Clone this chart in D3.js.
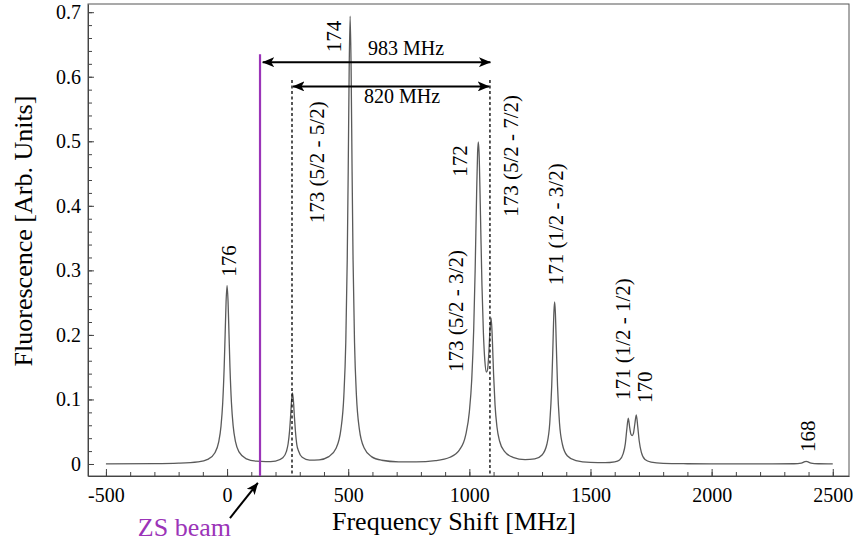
<!DOCTYPE html>
<html>
<head>
<meta charset="utf-8">
<script src="https://cdn.jsdelivr.net/npm/d3@7"></script>
<style>
body { margin: 0; background: #fff; }
svg { display: block; font-family: "Liberation Serif", "DejaVu Serif", serif; }
</style>
</head>
<body>
<svg width="853" height="542"></svg>
<script>
// frequency shift [MHz] of each point
var freq = [-500, -300, -200, -120, -80, -50, -35, -25, -18, -12, -8, -4, 0, 4, 8, 12, 18, 25, 35, 50,
  80, 120, 160, 200, 230, 245, 252, 258, 262, 266, 270, 274, 278, 282, 288, 295, 310, 340, 380, 420,
  450, 470, 482, 490, 496, 500, 504, 508, 512, 516, 520, 526, 534, 546, 566, 596, 638, 708, 780, 860,
  920, 960, 985, 1000, 1010, 1018, 1024, 1030, 1034, 1037, 1040, 1046, 1052, 1058, 1064, 1070, 1075, 1080, 1085, 1090,
  1095, 1100, 1106, 1114, 1125, 1145, 1180, 1230, 1270, 1300, 1320, 1332, 1340, 1345, 1349, 1352, 1355, 1359, 1364, 1372,
  1384, 1404, 1440, 1500, 1560, 1600, 1620, 1635, 1644, 1650, 1656, 1662, 1667, 1672, 1677, 1683, 1689, 1695, 1701, 1710,
  1725, 1750, 1800, 1900, 2000, 2200, 2340, 2370, 2385, 2390, 2395, 2410, 2440, 2500];

// fluorescence [arb. units] at those points
var fluor = [0.0002, 0.0005, 0.0012, 0.0032, 0.0071, 0.0175, 0.0335, 0.0587, 0.0946, 0.149, 0.2002, 0.2521, 0.2765, 0.2525, 0.2007, 0.1496, 0.0952, 0.0594, 0.0342, 0.0183,
  0.0079, 0.0043, 0.0036, 0.0046, 0.0096, 0.0195, 0.0314, 0.0513, 0.0726, 0.0974, 0.110, 0.0974, 0.0726, 0.0514, 0.0296, 0.0202, 0.0103, 0.0060, 0.0065, 0.0114,
  0.0245, 0.0540, 0.1055, 0.1887, 0.3167, 0.4532, 0.612, 0.6937, 0.6125, 0.4535, 0.3169, 0.1889, 0.1058, 0.0541, 0.0247, 0.0114, 0.0058, 0.0034, 0.0033, 0.0052,
  0.0104, 0.0223, 0.0451, 0.0807, 0.1318, 0.2086, 0.3014, 0.4187, 0.4818, 0.4990, 0.4835, 0.3850, 0.2776, 0.2028, 0.1599, 0.1423, 0.1460, 0.1688, 0.2066, 0.2259,
  0.1923, 0.1389, 0.0916, 0.0573, 0.0352, 0.0197, 0.0104, 0.0069, 0.0079, 0.0140, 0.0306, 0.0638, 0.1211, 0.1836, 0.2351, 0.2510, 0.2351, 0.1836, 0.1211, 0.0638,
  0.0306, 0.0128, 0.0052, 0.0025, 0.0021, 0.0034, 0.0063, 0.0160, 0.0320, 0.0540, 0.0710, 0.0560, 0.0460, 0.0440, 0.0470, 0.0620, 0.0760, 0.0580, 0.0360, 0.0180,
  0.0070, 0.0030, 0.0010, 0.0004, 0.0002, 0.0001, 0.0004, 0.0015, 0.0037, 0.0041, 0.0037, 0.0015, 0.0004, 0.0001];

// peak labels, with the frequency / level where each rotated label starts
var peakNames = ["176", "173 (5/2 - 5/2)", "174", "173 (5/2 - 3/2)", "172", "173 (5/2 - 7/2)",
  "171 (1/2 - 3/2)", "171 (1/2 - 1/2)", "170", "168"];
var peakFreq = [37, 400, 470, 974, 990, 1201, 1387, 1663, 1754, 2427];
var peakLevel = [0.290, 0.373, 0.638, 0.1425, 0.445, 0.383, 0.277, 0.099, 0.0945, 0.0186];

// zeeman slower beam and the two marked splittings
var zsFreq = 136, zsTop = 0.635;
var splitFreq = [268, 1085], splitTop = 0.595;
var spanNames = ["983 MHz", "820 MHz"];
var spanFrom = [147, 272];
var spanTo = [1087, 1082];
var spanLevel = [0.6226, 0.585];

var xTicks = [-500, 0, 500, 1000, 1500, 2000, 2500];
var xMinor = d3.range(-500, 2501, 100);
var yTicks = [0, 0.1, 0.2, 0.3, 0.4, 0.5, 0.6, 0.7];
var yMinor = d3.range(0, 0.701, 0.02);

var svg = d3.select("svg"),
  plotLeft = 88, plotRight = 849, plotTop = 4, plotBottom = 476;

var x = d3.scaleLinear().domain([-574, 2567]).range([plotLeft, plotRight]);
var y = d3.scaleLinear().domain([-0.0186, 0.7127]).range([plotBottom, plotTop]);

// arrow heads
var defs = svg.append("defs");
defs.append("marker")
  .attr("id", "head")
  .attr("viewBox", "0 0 12 10")
  .attr("refX", 11.5).attr("refY", 5)
  .attr("markerWidth", 12).attr("markerHeight", 10)
  .attr("markerUnits", "userSpaceOnUse")
  .attr("orient", "auto-start-reverse")
  .append("path")
  .attr("d", "M0,0 L12,5 L0,10 L3,5 Z")
  .attr("fill", "#000");

// frame
svg.append("rect")
  .attr("x", plotLeft).attr("y", plotTop)
  .attr("width", plotRight - plotLeft).attr("height", plotBottom - plotTop)
  .attr("fill", "none").attr("stroke", "#555").attr("stroke-width", 1);

// spectrum
var line = d3.line()
  .x(function (d, i) { return x(freq[i]); })
  .y(function (d) { return y(d); })
  .curve(d3.curveMonotoneX);

svg.append("path")
  .datum(fluor)
  .attr("d", line)
  .attr("fill", "none")
  .attr("stroke", "#5a5a5a")
  .attr("stroke-width", 1.3);

// zs beam line
svg.append("line")
  .attr("x1", x(zsFreq)).attr("x2", x(zsFreq))
  .attr("y1", y(zsTop)).attr("y2", plotBottom)
  .attr("stroke", "#9b34b8").attr("stroke-width", 2.2);

// dotted markers for the 173 lines
svg.selectAll(".split")
  .data(splitFreq)
  .enter().append("line")
  .attr("class", "split")
  .attr("x1", function (d) { return x(d); })
  .attr("x2", function (d) { return x(d); })
  .attr("y1", y(splitTop)).attr("y2", plotBottom)
  .attr("stroke", "#111").attr("stroke-width", 1.4)
  .attr("stroke-dasharray", "3,2.5");

// double arrows
svg.selectAll(".span")
  .data(spanNames)
  .enter().append("line")
  .attr("class", "span")
  .attr("x1", function (d, i) { return x(spanFrom[i]); })
  .attr("x2", function (d, i) { return x(spanTo[i]); })
  .attr("y1", function (d, i) { return y(spanLevel[i]); })
  .attr("y2", function (d, i) { return y(spanLevel[i]); })
  .attr("stroke", "#000").attr("stroke-width", 2)
  .attr("marker-start", "url(#head)")
  .attr("marker-end", "url(#head)");

svg.append("text")
  .attr("x", 406).attr("y", y(spanLevel[0]) - 7)
  .attr("text-anchor", "middle")
  .style("font-size", "20px")
  .text(spanNames[0]);

svg.append("text")
  .attr("x", 402).attr("y", y(spanLevel[1]) + 17)
  .attr("text-anchor", "middle")
  .style("font-size", "20px")
  .text(spanNames[1]);

// peak labels, rotated
svg.selectAll(".peak")
  .data(peakNames)
  .enter().append("text")
  .attr("class", "peak")
  .attr("transform", function (d, i) {
    return "translate(" + x(peakFreq[i]) + "," + y(peakLevel[i]) + ") rotate(-90)";
  })
  .style("font-size", "21px")
  .text(function (d) { return d; });

// axes
svg.append("g")
  .attr("transform", "translate(0," + plotBottom + ")")
  .call(d3.axisBottom(x).tickValues(xTicks).tickSizeInner(-7).tickSizeOuter(0).tickPadding(12)
    .tickFormat(function (d) { return String(d); }));

svg.append("g")
  .attr("transform", "translate(0," + plotBottom + ")")
  .call(d3.axisBottom(x).tickValues(xMinor).tickSize(-4).tickFormat(""))
  .call(function (g) { g.select(".domain").remove(); });

svg.append("g")
  .attr("transform", "translate(" + plotLeft + ",0)")
  .call(d3.axisLeft(y).tickValues(yTicks).tickSizeInner(-6).tickSizeOuter(0).tickPadding(7)
    .tickFormat(d3.format("~g")));

svg.append("g")
  .attr("transform", "translate(" + plotLeft + ",0)")
  .call(d3.axisLeft(y).tickValues(yMinor).tickSize(-4).tickFormat(""))
  .call(function (g) { g.select(".domain").remove(); });

svg.selectAll(".tick line").attr("stroke", "#444");
svg.selectAll(".domain").attr("stroke", "#444");
svg.selectAll(".tick text")
  .style("font-family", "Liberation Serif, serif")
  .style("font-size", "20px")
  .attr("fill", "#000");

// axis titles
svg.append("text")
  .attr("x", 454).attr("y", 530)
  .attr("text-anchor", "middle")
  .style("font-size", "26px")
  .text("Frequency Shift [MHz]");

svg.append("text")
  .attr("transform", "translate(32,231) rotate(-90)")
  .attr("text-anchor", "middle")
  .style("font-size", "26px")
  .text("Fluorescence [Arb. Units]");

// zs beam pointer below the axis
svg.append("line")
  .attr("x1", x(12)).attr("y1", y(-0.0837))
  .attr("x2", x(127)).attr("y2", y(-0.0294))
  .attr("stroke", "#000").attr("stroke-width", 2)
  .attr("marker-end", "url(#head)");

svg.append("text")
  .attr("x", x(-176)).attr("y", y(-0.1116))
  .attr("text-anchor", "middle")
  .attr("fill", "#9b34b8")
  .style("font-size", "26px")
  .text("ZS beam");
</script>
</body>
</html>
